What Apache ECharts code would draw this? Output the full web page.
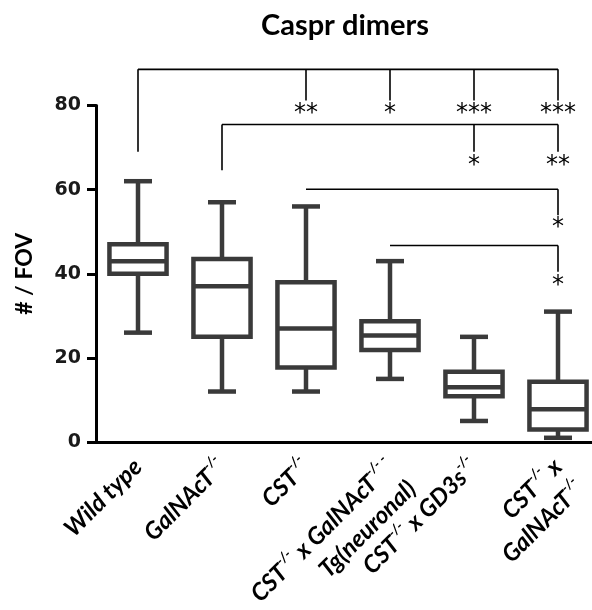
<!DOCTYPE html>
<html>
<head>
<meta charset="utf-8">
<script src="https://cdn.jsdelivr.net/npm/echarts@6/dist/echarts.min.js"></script>
<style>html,body{margin:0;padding:0;background:#fff}#c{width:592px;height:610px}</style>
</head>
<body>
<div id="c"></div>
<script>
// ---- data ----
const titleText = 'Caspr dimers';
const yAxisName = '# / FOV';
const categories = ['Wild type', 'GalNAcT^{-/-}', 'CST^{-/-}', 'CST^{-/-} x GalNAcT^{-/- -}\nTg(neuronal)', 'CST^{-/-} x GD3s^{-/-}', 'CST^{-/-} x\nGalNAcT^{-/-}'];
const whiskerMin = [26, 12, 12, 15, 5, 1];
const q1Values = [40, 25, 17.7, 21.9, 10.9, 3];
const medianValues = [43, 37, 27, 25.3, 13, 7.8];
const q3Values = [47, 43.5, 38, 28.7, 16.7, 14.3];
const whiskerMax = [62, 57, 56, 43, 25, 31];
const yTicks = [0, 20, 40, 60, 80];
// significance brackets
const bracketFrom = [0, 1, 2, 3];
const bracketLineY = [88.6, 75.5, 60.1, 46.7];
const bracketFromEndY = [69, 64.6, null, null];
const bracketTargets = [[2, 3, 4, 5], [4, 5], [5], [5]];
const bracketTickEndY = [81.2, 69, 53.9, 40.5];
const bracketStars = [['**', '*', '***', '***'], ['*', '**'], ['*'], ['*']];
const bracketStarY = [78.9, 66.7, 51.8, 38.2];

const boxColor = '#3a3a3a';
const chart = echarts.init(document.getElementById('c'), null, {renderer: 'canvas'});

function fmtLabel(v) {
  const lines = v.split('\n').map(line => {
    const parts = [];
    const re = /\^\{([^}]*)\}/g;
    let last = 0, m;
    while ((m = re.exec(line)) !== null) {
      if (m.index > last) parts.push('{n|' + line.slice(last, m.index) + '}');
      parts.push('{s|' + m[1] + '}');
      last = re.lastIndex;
    }
    if (last < line.length) parts.push('{n|' + line.slice(last) + '}');
    return parts.join('');
  });
  // keep the first line at the tick: pad a blank line above multi-line labels
  if (lines.length > 1) lines.unshift('{n| }');
  return lines.join('\n');
}

const boxData = categories.map((c, i) => [i, whiskerMin[i], q1Values[i], medianValues[i], q3Values[i], whiskerMax[i]]);
const bracketData = bracketFrom.map((f, i) => [i]);

const option = {
  backgroundColor: '#fff',
  animation: false,
  title: {
    text: titleText,
    left: 256, top: 6,
    textStyle: {fontFamily: 'Lato', fontWeight: 'bold', fontSize: 29, color: '#000'}
  },
  grid: {left: 96, top: 105.5, width: 504, bottom: 168, containLabel: false, outerBoundsMode: 'none'},
  xAxis: {
    type: 'category',
    data: categories,
    boundaryGap: true,
    axisLine: {lineStyle: {color: '#000', width: 3}},
    axisTick: {alignWithLabel: true, length: 9, lineStyle: {color: '#000', width: 3}},
    axisLabel: {
      rotate: 45, margin: 21, interval: 0,
      formatter: fmtLabel,
      rich: {
        n: {fontFamily: 'Lato', fontWeight: 'bold', fontStyle: 'italic', fontSize: 24, color: '#000', lineHeight: 31},
        s: {fontFamily: 'Lato', fontWeight: 'bold', fontStyle: 'italic', fontSize: 14, color: '#000', verticalAlign: 'top', lineHeight: 31}
      }
    },
    splitLine: {show: false}
  },
  yAxis: {
    type: 'value', min: 0, max: 80, interval: 20,
    name: yAxisName, nameLocation: 'middle', nameGap: 60, nameRotate: 90,
    nameTextStyle: {fontFamily: 'Lato', fontWeight: 'bold', fontSize: 23, color: '#000'},
    axisLine: {show: true, lineStyle: {color: '#000', width: 3}},
    axisTick: {show: true, length: 9, lineStyle: {color: '#000', width: 3}},
    axisLabel: {margin: 15, fontFamily: 'DejaVu Sans', fontWeight: 'bold', fontSize: 19, color: '#1a1a1a',
      formatter: v => yTicks.indexOf(v) >= 0 ? String(v) : ''},
    splitLine: {show: false}
  },
  series: [
    {
      type: 'custom',
      data: boxData,
      clip: false,
      encode: {x: 0, y: [1, 2, 3, 4, 5]},
      renderItem: function (params, api) {
        const x = api.value(0);
        const band = api.size([1, 0])[0];
        const bw = band * 0.68;
        const capW = 28;
        const c = api.coord([x, api.value(3)]);
        const cx = c[0];
        const yMin = api.coord([x, api.value(1)])[1];
        const yQ1 = api.coord([x, api.value(2)])[1];
        const yMed = c[1];
        const yQ3 = api.coord([x, api.value(4)])[1];
        const yMax = api.coord([x, api.value(5)])[1];
        const st = {stroke: boxColor, lineWidth: 4.5, fill: null, lineCap: 'butt'};
        return {
          type: 'group',
          children: [
            {type: 'line', shape: {x1: cx, y1: yQ3, x2: cx, y2: yMax}, style: st},
            {type: 'line', shape: {x1: cx, y1: yQ1, x2: cx, y2: yMin}, style: st},
            {type: 'line', shape: {x1: cx - capW / 2, y1: yMax, x2: cx + capW / 2, y2: yMax}, style: st},
            {type: 'line', shape: {x1: cx - capW / 2, y1: yMin, x2: cx + capW / 2, y2: yMin}, style: st},
            {type: 'rect', shape: {x: cx - bw / 2, y: yQ3, width: bw, height: yQ1 - yQ3}, style: {stroke: boxColor, lineWidth: 4.5, fill: '#fff'}},
            {type: 'line', shape: {x1: cx - bw / 2, y1: yMed, x2: cx + bw / 2, y2: yMed}, style: st}
          ]
        };
      }
    },
    {
      type: 'custom',
      data: bracketData,
      clip: false,
      z: 5,
      renderItem: function (params, api) {
        const i = params.dataIndex;
        const from = bracketFrom[i];
        const targets = bracketTargets[i];
        const lastT = targets[targets.length - 1];
        const p0 = api.coord([from, bracketLineY[i]]);
        const p1 = api.coord([lastT, bracketLineY[i]]);
        const ls = {stroke: '#000', lineWidth: 1.6};
        const children = [
          {type: 'line', shape: {x1: p0[0], y1: p0[1], x2: p1[0], y2: p1[1]}, style: ls}
        ];
        if (bracketFromEndY[i] !== null) {
          const pe = api.coord([from, bracketFromEndY[i]]);
          children.push({type: 'line', shape: {x1: p0[0], y1: p0[1], x2: pe[0], y2: pe[1]}, style: ls});
        }
        targets.forEach((t, k) => {
          const a = api.coord([t, bracketLineY[i]]);
          const b = api.coord([t, bracketTickEndY[i]]);
          const s = api.coord([t, bracketStarY[i]]);
          children.push({type: 'line', shape: {x1: a[0], y1: a[1], x2: b[0], y2: b[1]}, style: ls});
          children.push({type: 'text', x: s[0], y: s[1] + 4, style: {text: bracketStars[i][k], fontFamily: 'DejaVu Sans', fontSize: 24, fill: '#000', align: 'center', verticalAlign: 'middle'}});
        });
        return {type: 'group', children: children};
      }
    }
  ]
};
chart.setOption(option);
</script>
</body>
</html>
